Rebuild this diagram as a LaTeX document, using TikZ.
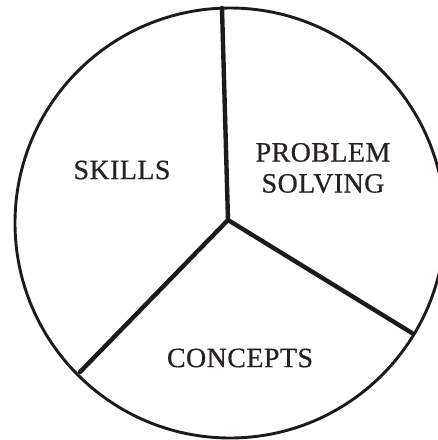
\documentclass[tikz,border=0pt]{standalone}
\usepackage{fontspec}
\setmainfont{Liberation Serif}[LetterSpace=1.5,FakeBold=0.6]
\definecolor{ink}{HTML}{1E1A1B}
\definecolor{txt}{HTML}{262223}
\begin{document}
\begin{tikzpicture}[x=1pt,y=-1pt,
  rim/.style={draw=ink,line width=2.9pt},
  spoke/.style={draw=ink,line width=4.4pt,line cap=round,line join=round},
  lbl/.style={text=txt,font=\fontsize{28}{31}\selectfont,align=center,inner sep=0pt}]
  \useasboundingbox (0,0) rectangle (438,440);
  \clip (0,0) rectangle (438,440);
  % outer circle
  \coordinate (ctr) at (230,223);
  \draw[rim] (ctr) circle[radius=215pt];
  % spokes from the hub to the rim
  \coordinate (hub) at (228,220);
  \coordinate (top) at (222,8);
  \coordinate (rgt) at (412,333);
  \coordinate (lft) at (80,372);
  \draw[spoke] (top) -- (hub) -- (rgt);
  \draw[spoke] (hub) -- (lft);
  % sector labels
  \node[lbl] (skills) at (122,170) {SKILLS};
  \node[lbl] (prob) at (323,168) {PROBLEM\\SOLVING};
  \node[lbl] (conc) at (240,358) {CONCEPTS};
\end{tikzpicture}
\end{document}
